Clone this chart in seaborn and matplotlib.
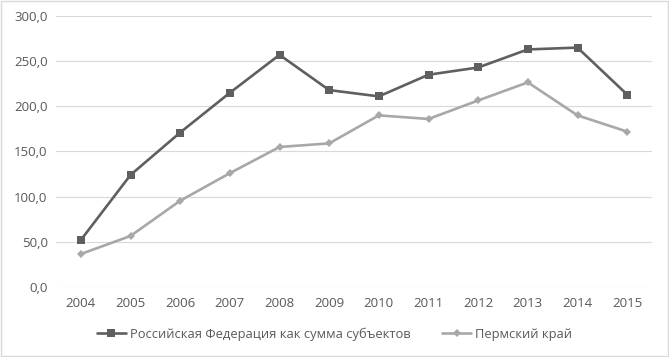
import matplotlib
matplotlib.use("Agg")
import matplotlib.pyplot as plt
import pandas as pd
import seaborn as sns
from matplotlib.patches import Rectangle

years = list(range(2004, 2016))
russia = [52, 124, 171, 215, 257, 218, 211, 235, 243, 263, 265, 213]
perm = [36.5, 56.5, 95.5, 126, 155, 159, 190, 186, 206.5, 226.5, 190, 172]
series_names = ["Российская Федерация как сумма субъектов", "Пермский край"]
y_ticks = [0, 50, 100, 150, 200, 250, 300]

df = pd.DataFrame({
    "year": years * 2,
    "value": russia + perm,
    "series": [series_names[0]] * len(years) + [series_names[1]] * len(years),
})

sns.set_theme(style="white")
plt.rcParams["font.family"] = ["Open Sans", "DejaVu Sans"]
text_color = "#595959"

fig = plt.figure(figsize=(6.69, 3.57), dpi=100)
ax = fig.add_axes([56 / 669, 1 - 287 / 357, (652 - 56) / 669, (287 - 16) / 357])

sns.lineplot(
    data=df, x="year", y="value", hue="series", style="series",
    palette=["#5f5f5f", "#a8a8a8"], markers=["s", "D"], dashes=False,
    linewidth=1.9, markersize=6, markeredgewidth=0, ax=ax, legend=False,
)
# smaller diamond for the second series
for line in ax.lines[1:2]:
    line.set_markersize(4.5)

ax.set_xlim(2003.5, 2015.5)
ax.set_ylim(0, 300)
ax.set_yticks(y_ticks)
ax.set_yticklabels([f"{v:.1f}".replace(".", ",") for v in y_ticks])
ax.set_xticks(years)
ax.set_xticklabels([str(y) for y in years])
ax.tick_params(axis="both", length=0, labelsize=9.5, colors=text_color, pad=7)
ax.tick_params(axis="y", pad=6)
ax.grid(axis="y", color="#d9d9d9", linewidth=0.8)
ax.set_axisbelow(True)
for spine in ax.spines.values():
    spine.set_visible(False)
ax.set_xlabel("")
ax.set_ylabel("")

handles = ax.lines[:2]
fig.legend(
    handles, series_names, loc="center", bbox_to_anchor=(0.5, 1 - 334 / 357),
    ncol=2, frameon=False, fontsize=9.3, labelcolor=text_color,
    handlelength=2.2, columnspacing=2.5, handletextpad=0.3,
)

fig.patches.append(Rectangle((0.002, 0.003), 0.996, 0.994, transform=fig.transFigure,
                             fill=False, edgecolor="#d9d9d9", linewidth=1))

fig.savefig("out.png", dpi=100)
